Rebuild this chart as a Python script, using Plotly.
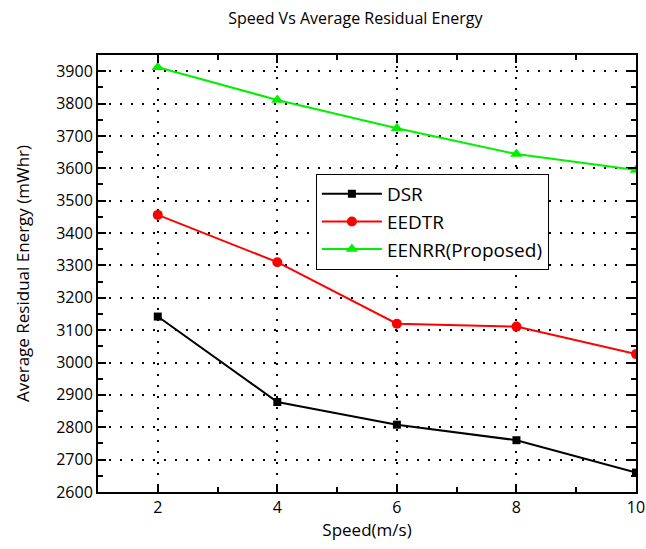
import plotly.graph_objects as go

speed = [2, 4, 6, 8, 10]
dsr = [3142, 2878, 2808, 2760, 2660]
eedtr = [3456, 3310, 3120, 3111, 3026]
eenrr = [3912, 3811, 3724, 3644, 3595]

x_ticks = [2, 4, 6, 8, 10]
y_ticks = list(range(2600, 4000, 100))

FONT = "Open Sans"

fig = go.Figure()
fig.add_trace(go.Scatter(x=speed, y=dsr, name="DSR", mode="lines+markers",
                         line=dict(color="black", width=2),
                         marker=dict(symbol="square", size=8, color="black")))
fig.add_trace(go.Scatter(x=speed, y=eedtr, name="EEDTR", mode="lines+markers",
                         line=dict(color="#ff0000", width=2),
                         marker=dict(symbol="circle", size=10, color="#ff0000")))
fig.add_trace(go.Scatter(x=speed, y=eenrr, name="EENRR(Proposed)", mode="lines+markers",
                         line=dict(color="#00f000", width=2),
                         marker=dict(symbol="triangle-up", size=11, color="#00f000")))

axis_common = dict(
    showline=True, linecolor="black", linewidth=2, mirror="ticks",
    ticks="inside", ticklen=8, tickwidth=1.5, tickcolor="black",
    showgrid=True, gridcolor="black", griddash="2px,9px", gridwidth=2,
    zeroline=False, automargin=False,
    tickfont=dict(family=FONT, size=16, color="black"),
)

fig.update_xaxes(range=[1, 10], tickvals=x_ticks, ticklabeloverflow="allow",
                 minor=dict(tickvals=[3, 5, 7, 9], ticks="inside", ticklen=5, tickcolor="black", showgrid=False),
                 title=dict(text="Speed(m/s)", font=dict(family=FONT, size=17, color="black"), standoff=6),
                 **axis_common)
fig.update_yaxes(range=[2600, 3950], tickvals=y_ticks,
                 minor=dict(tickvals=[v + 50 for v in y_ticks], ticks="inside", ticklen=5, tickcolor="black", showgrid=False),
                 title=dict(text="Average Residual Energy (mWhr)", font=dict(family=FONT, size=17, color="black"), standoff=22),
                 **axis_common)

fig.update_layout(
    width=646, height=549,
    paper_bgcolor="white", plot_bgcolor="white",
    margin=dict(l=98, r=10, t=55, b=57),
    title=dict(text="Speed Vs Average Residual Energy", x=0.55, xanchor="center", y=0.967, yanchor="middle",
               font=dict(family=FONT, size=16, color="black")),
    legend=dict(x=0.405, y=0.728, xanchor="left", yanchor="top",
                bgcolor="white", bordercolor="black", borderwidth=1,
                font=dict(family=FONT, size=19, color="black"),
                itemwidth=60, tracegroupgap=0),
    showlegend=True,
)

fig.write_html("out.html", config={"displayModeBar": False},
               post_script="document.body.style.margin='0';document.body.style.overflow='hidden';")
